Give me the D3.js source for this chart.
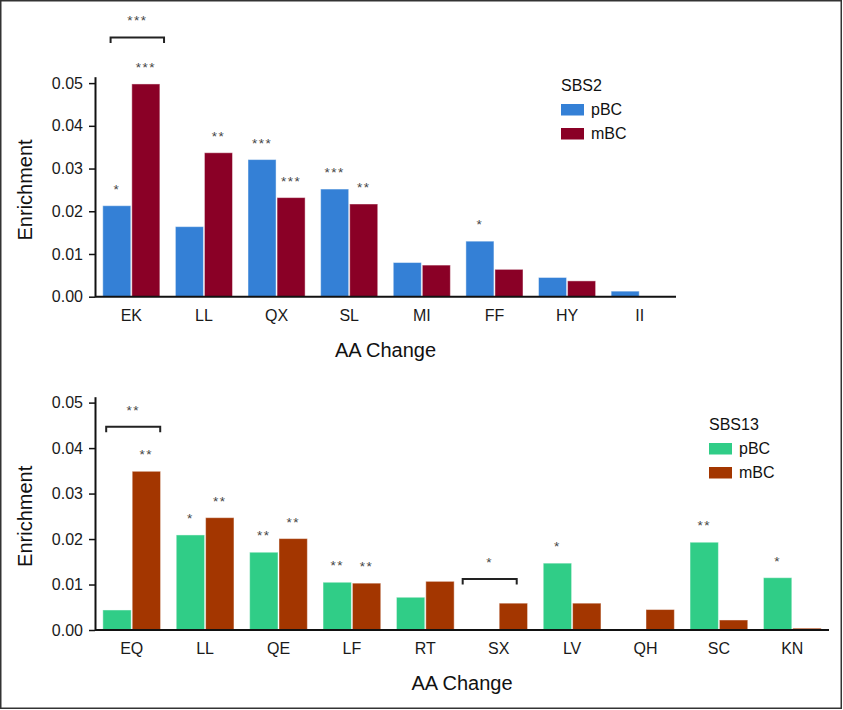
<!DOCTYPE html>
<html>
<head>
<meta charset="utf-8">
<script src="https://cdn.jsdelivr.net/npm/d3@7"></script>
<style>
  html, body { margin: 0; padding: 0; background: #fff; }
  svg { display: block; font-family: "Liberation Sans", Arial, Helvetica, sans-serif; }
</style>
</head>
<body>
<svg id="chart" width="843" height="710"></svg>
<script>
// ---------- Data ----------
const sbs2Categories = ["EK", "LL", "QX", "SL", "MI", "FF", "HY", "II"];
const sbs2PBC = [0.0213, 0.0164, 0.0321, 0.0252, 0.0080, 0.0130, 0.0045, 0.0013];
const sbs2MBC = [0.0498, 0.0337, 0.0232, 0.0217, 0.0074, 0.0064, 0.0037, 0.0000];
const sbs2SigPBC = ["*", "", "***", "***", "", "*", "", ""];
const sbs2SigMBC = ["***", "**", "***", "**", "", "", "", ""];
const sbs2Brackets = [{ cat: "EK", level: 0.0607, label: "***" }];

const sbs13Categories = ["EQ", "LL", "QE", "LF", "RT", "SX", "LV", "QH", "SC", "KN"];
const sbs13PBC = [0.0044, 0.0209, 0.0171, 0.0105, 0.0072, 0.0000, 0.0147, 0.0000, 0.0193, 0.0115];
const sbs13MBC = [0.0349, 0.0247, 0.0201, 0.0103, 0.0107, 0.0059, 0.0059, 0.0045, 0.0022, 0.0004];
const sbs13SigPBC = ["", "*", "**", "**", "", "", "*", "", "**", "*"];
const sbs13SigMBC = ["**", "**", "**", "**", "", "", "", "", "", ""];
const sbs13Brackets = [
  { cat: "EQ", level: 0.0447, label: "**" },
  { cat: "SX", level: 0.0112, label: "*" }
];

const yTicks = [0, 0.01, 0.02, 0.03, 0.04, 0.05];
const seriesNames = ["pBC", "mBC"];

// ---------- Drawing ----------
const svg = d3.select("#chart");

// outer frame
svg.append("rect")
  .attr("x", 0.75).attr("y", 0.75)
  .attr("width", 840.5).attr("height", 707.5)
  .attr("fill", "none").attr("stroke", "#333").attr("stroke-width", 1.5);

function drawPanel(opt) {
  const { categories, pbc, mbc, sigP, sigM, brackets, colors, title,
          x0, x1, yBase, yTop, yMaxDomain, legendX, legendY, bracketShift } = opt;

  const g = svg.append("g");

  const x = d3.scaleBand()
    .domain(categories)
    .range([x0, x1])
    .paddingInner(0.2)
    .paddingOuter(0.1);

  const y = d3.scaleLinear()
    .domain([0, yMaxDomain])
    .range([yBase, yTop]);

  const sub = d3.scaleBand()
    .domain(seriesNames)
    .range([0, x.bandwidth()])
    .padding(0);

  const rows = categories.map((c, i) => ({
    cat: c,
    vals: [
      { s: "pBC", v: pbc[i], sig: sigP[i] },
      { s: "mBC", v: mbc[i], sig: sigM[i] }
    ]
  }));

  const groups = g.selectAll("g.grp")
    .data(rows)
    .join("g")
    .attr("class", "grp")
    .attr("transform", d => `translate(${x(d.cat)},0)`);

  groups.selectAll("rect")
    .data(d => d.vals.filter(v => v.v > 0))
    .join("rect")
    .attr("x", d => sub(d.s) + 0.5)
    .attr("width", sub.bandwidth() - 1)
    .attr("y", d => y(d.v))
    .attr("height", d => y(0) - y(d.v))
    .attr("fill", d => colors[d.s])
    .attr("stroke", "rgba(255,255,255,0.45)")
    .attr("stroke-width", 1);

  groups.selectAll("text.sig")
    .data(d => d.vals.filter(v => v.sig))
    .join("text")
    .attr("class", "sig")
    .attr("x", d => sub(d.s) + sub.bandwidth() / 2)
    .attr("y", d => y(d.v) - 12)
    .attr("text-anchor", "middle")
    .attr("font-size", 13.5)
    .attr("letter-spacing", 1.5)
    .attr("fill", "#444")
    .text(d => d.sig);

  // brackets
  brackets.forEach((b, i) => {
    const shift = bracketShift[i] || 0;
    const cx = x(b.cat) + x.bandwidth() / 2 + shift;
    const half = x.bandwidth() * 0.46;
    const by = y(b.level);
    g.append("path")
      .attr("d", `M${cx - half},${by + 5.5}V${by}H${cx + half}V${by + 5.5}`)
      .attr("fill", "none")
      .attr("stroke", "#222")
      .attr("stroke-width", 2);
    g.append("text")
      .attr("x", cx)
      .attr("y", by - 12)
      .attr("text-anchor", "middle")
      .attr("font-size", 13.5)
      .attr("letter-spacing", 1.5)
      .attr("fill", "#444")
      .text(b.label);
  });

  // y axis
  const yAxis = g.append("g")
    .attr("transform", `translate(${x0},0)`)
    .call(d3.axisLeft(y).tickValues(yTicks).tickFormat(d3.format(".2f")).tickSize(6).tickSizeOuter(0).tickPadding(6));
  yAxis.select(".domain").attr("stroke", "#111").attr("stroke-width", 2);
  yAxis.selectAll(".tick line").attr("stroke", "#111").attr("stroke-width", 1.5);
  yAxis.selectAll(".tick text").attr("font-size", 16).attr("fill", "#1a1a1a")
    .attr("font-family", "'Liberation Sans', Arial, sans-serif");

  // x axis
  const xAxis = g.append("g")
    .attr("transform", `translate(0,${yBase})`)
    .call(d3.axisBottom(x).tickSize(0).tickPadding(13));
  xAxis.select(".domain").attr("stroke", "#111").attr("stroke-width", 2)
    .attr("d", `M${x0},0H${x1}`);
  xAxis.selectAll(".tick text").attr("font-size", 16).attr("fill", "#1a1a1a")
    .attr("font-family", "'Liberation Sans', Arial, sans-serif");

  // axis titles
  g.append("text")
    .attr("x", (x0 + x1) / 2)
    .attr("y", yBase + 60)
    .attr("text-anchor", "middle")
    .attr("font-size", 20)
    .attr("fill", "#111")
    .text("AA Change");

  g.append("text")
    .attr("transform", `translate(32,${(yBase + y(0.05)) / 2}) rotate(-90)`)
    .attr("text-anchor", "middle")
    .attr("font-size", 20)
    .attr("fill", "#111")
    .text("Enrichment");

  // legend
  const lg = g.append("g").attr("transform", `translate(${legendX},${legendY})`);
  lg.append("text").attr("x", 0).attr("y", 0)
    .attr("font-size", 16).attr("fill", "#111").text(title);
  seriesNames.forEach((s, i) => {
    lg.append("rect")
      .attr("x", 0).attr("y", 13 + i * 24)
      .attr("width", 23).attr("height", 11.5)
      .attr("fill", colors[s]);
    lg.append("text")
      .attr("x", 30).attr("y", 24 + i * 24)
      .attr("font-size", 16).attr("fill", "#111").text(s);
  });
}

drawPanel({
  categories: sbs2Categories, pbc: sbs2PBC, mbc: sbs2MBC,
  sigP: sbs2SigPBC, sigM: sbs2SigMBC, brackets: sbs2Brackets,
  colors: { pBC: "#3480D6", mBC: "#8A0026" },
  title: "SBS2",
  x0: 95, x1: 676, yBase: 296.7, yTop: 76.7, yMaxDomain: 0.0515,
  legendX: 561, legendY: 91, bracketShift: [6]
});

drawPanel({
  categories: sbs13Categories, pbc: sbs13PBC, mbc: sbs13MBC,
  sigP: sbs13SigPBC, sigM: sbs13SigMBC, brackets: sbs13Brackets,
  colors: { pBC: "#30CD87", mBC: "#A33600" },
  title: "SBS13",
  x0: 95, x1: 829, yBase: 630, yTop: 396.7, yMaxDomain: 0.0513,
  legendX: 709, legendY: 430, bracketShift: [1.5, -9]
});
</script>
</body>
</html>
